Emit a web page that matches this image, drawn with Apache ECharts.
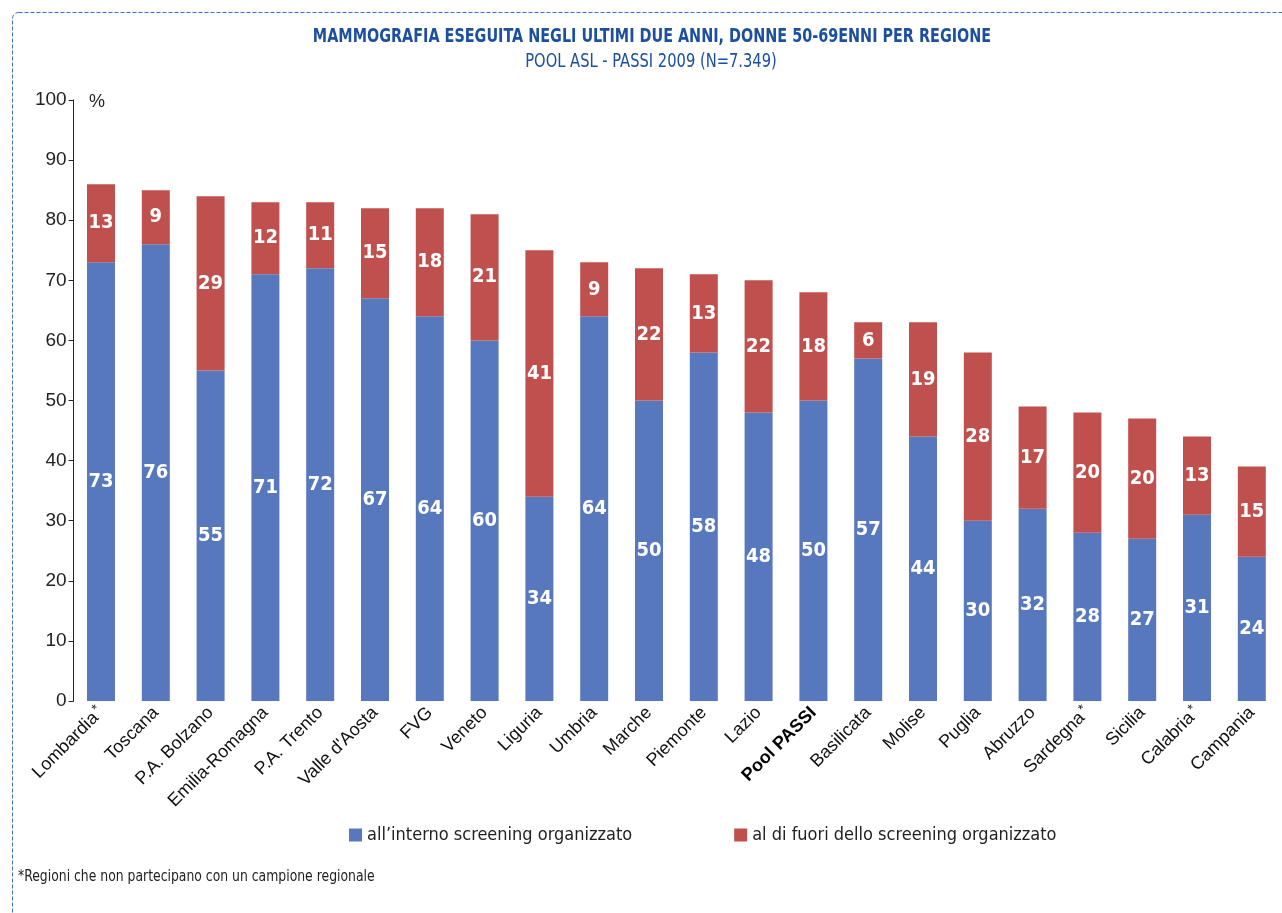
<!DOCTYPE html>
<html><head><meta charset="utf-8">
<script src="https://cdn.jsdelivr.net/npm/echarts@6/dist/echarts.min.js"></script>
<style>html,body{margin:0;padding:0;background:#fff}#c{width:1282px;height:913px}</style>
</head><body><div id="c"></div>
<script>
const categories = ['Lombardia*','Toscana','P.A. Bolzano','Emilia-Romagna','P.A. Trento',"Valle d'Aosta",'FVG','Veneto','Liguria','Umbria','Marche','Piemonte','Lazio','Pool PASSI','Basilicata','Molise','Puglia','Abruzzo','Sardegna*','Sicilia','Calabria*','Campania'];
const inside = [73,76,55,71,72,67,64,60,34,64,50,58,48,50,57,44,30,32,28,27,31,24];
const outside = [13,9,29,12,11,15,18,21,41,9,22,13,22,18,6,19,28,17,20,20,13,15];
const seriesNames = ["all\u2019interno screening organizzato","al di fuori dello screening organizzato"];
const yTicks = {min:0,max:100,interval:10};
const titleText = 'MAMMOGRAFIA ESEGUITA NEGLI ULTIMI DUE ANNI, DONNE 50-69ENNI PER REGIONE';
const subtitleText = 'POOL ASL - PASSI 2009 (N=7.349)';
const footnote = '*Regioni che non partecipano con un campione regionale';

const narrow = '"DejaVu Sans Condensed","Liberation Sans Narrow",sans-serif';
const sans = '"Liberation Sans",Arial,sans-serif';
const chart = echarts.init(document.getElementById('c'), null, {renderer:'canvas'});
const labelStyle = {show:true, position:'inside', color:'#fff', fontWeight:'bold', fontSize:20, fontFamily:narrow};
chart.setOption({
  animation:false,
  graphic:[
    {type:'rect', shape:{x:12.5,y:12.5,width:1400,height:1000,r:[6,0,0,0]}, style:{fill:null, stroke:'#3D6FC0', lineWidth:1, lineDash:[4,2]}, silent:true},
    {type:'text', x:652, y:37, scaleX:0.8, style:{text:titleText, textAlign:'center', textVerticalAlign:'middle', fontSize:20, fontWeight:'bold', fill:'#1C4FA0', fontFamily:narrow}},
    {type:'text', x:651, y:62, scaleX:0.86, style:{text:subtitleText, textAlign:'center', textVerticalAlign:'middle', fontSize:19, fill:'#1C4FA0', fontFamily:narrow}},
    {type:'text', x:18, y:877, scaleX:0.92, style:{text:footnote, textAlign:'left', textVerticalAlign:'middle', fontSize:15, fill:'#222', fontFamily:narrow}},
    {type:'text', left:89, top:93, style:{text:'%', fontSize:18, fill:'#222', fontFamily:sans}}
  ],
  legend:{
    top:821, left:344, itemGap:102, itemWidth:13, itemHeight:13, icon:'rect',
    textStyle:{fontSize:18, color:'#222', fontFamily:narrow},
    data:seriesNames
  },
  grid:{left:73.6, right:2.8, top:100, bottom:212, containLabel:false},
  xAxis:{
    type:'category', data:categories,
    axisLine:{show:false}, axisTick:{show:false},
    axisLabel:{interval:0, rotate:45, fontSize:18, color:'#111', margin:9,
      fontFamily:sans,
      formatter:v=> v==='Pool PASSI' ? '{b|'+v+'}' : (v.endsWith('*') ? v.slice(0,-1)+'{s|*}' : v),
      rich:{
        b:{fontWeight:'bold', fontSize:18, color:'#000', fontFamily:sans},
        s:{fontSize:14, color:'#111', fontFamily:sans, padding:[0,0,8,2]}
      }}
  },
  yAxis:{
    type:'value', min:yTicks.min, max:yTicks.max, interval:yTicks.interval,
    axisLine:{show:true, lineStyle:{color:'#222', width:1}},
    axisTick:{show:true, length:5, lineStyle:{color:'#222'}},
    axisLabel:{fontSize:19, color:'#222', margin:7, fontFamily:sans},
    splitLine:{show:false}
  },
  series:[
    {name:seriesNames[0], type:'bar', stack:'a', data:inside, barWidth:28, itemStyle:{color:'#5878BD'}, label:labelStyle},
    {name:seriesNames[1], type:'bar', stack:'a', data:outside, barWidth:28, itemStyle:{color:'#C0504D'}, label:labelStyle}
  ]
});
</script></body></html>
